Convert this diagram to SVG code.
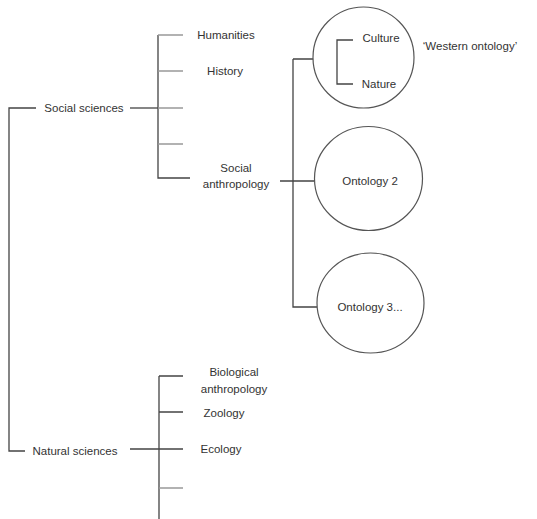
<svg xmlns="http://www.w3.org/2000/svg" width="537" height="519" viewBox="0 0 537 519">
<style>
text{font-family:"Liberation Sans",Arial,sans-serif;font-size:11.5px;fill:#333;dominant-baseline:central}
.m{text-anchor:middle}
.k{stroke:#444;stroke-width:1.3;fill:none}
.g{stroke:#999;stroke-width:1.5;fill:none}
.c{stroke:#555;stroke-width:1.2;fill:#fff}
</style>
<rect width="537" height="519" fill="#fff"/>
<g id="connectors">
<path class="k" d="M36 108H9V451H25"/>
<path class="k" d="M130 108H158"/>
<path class="k" d="M158 35V178H190"/>
<path class="g" d="M158 35H183M158 71H183M158 108H183M158 144H183"/>
<path class="k" d="M280 181H314M293 59V307H317M293 59H315"/>
<path class="k" d="M130 449H183M159 376V519M159 376H183M159 412H183"/>
<path class="g" d="M159 488H183"/>
</g>
<g id="social-sciences"><text x="84" y="108" class="m">Social sciences</text></g>
<g id="humanities"><text x="226" y="35" class="m">Humanities</text></g>
<g id="history"><text x="225" y="71" class="m">History</text></g>
<g id="social-anthropology"><text x="236" y="168" class="m">Social</text><text x="236" y="184" class="m">anthropology</text></g>
<g id="western-ontology">
<circle class="c" cx="363.5" cy="57.5" r="50.5"/>
<path class="k" d="M353 40H337V84H353"/>
<text x="381" y="38" class="m">Culture</text>
<text x="379" y="84" class="m">Nature</text>
<text x="470" y="46" class="m">‘Western ontology’</text>
</g>
<g id="ontology-2"><ellipse class="c" cx="368.5" cy="178.5" rx="54" ry="52"/><text x="370" y="181" class="m">Ontology 2</text></g>
<g id="ontology-3"><ellipse class="c" cx="370.5" cy="303" rx="53.5" ry="50"/><text x="370" y="307" class="m">Ontology 3...</text></g>
<g id="natural-sciences"><text x="75" y="451" class="m">Natural sciences</text></g>
<g id="biological-anthropology"><text x="234" y="372" class="m">Biological</text><text x="234" y="389" class="m">anthropology</text></g>
<g id="zoology"><text x="224" y="413" class="m">Zoology</text></g>
<g id="ecology"><text x="221" y="449" class="m">Ecology</text></g>
</svg>
